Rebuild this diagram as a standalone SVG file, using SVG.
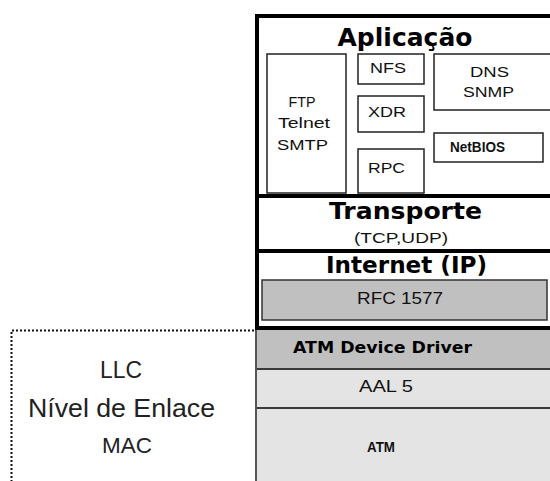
<svg xmlns="http://www.w3.org/2000/svg" width="550" height="481" viewBox="0 0 550 481">
<style>
.head{font-family:"DejaVu Sans",Verdana,sans-serif;font-weight:bold;fill:#000;text-anchor:middle}
.lbl{font-family:"Liberation Sans",Arial,sans-serif;fill:#111;text-anchor:middle}
.left{font-family:"Liberation Sans",Arial,sans-serif;fill:#222;text-anchor:middle}
.box{fill:#fff;stroke:#222;stroke-width:1.5}
.thick{stroke:#000;stroke-width:4;fill:none}
.sep{stroke:#3a3a3a;stroke-width:2}
</style>
<rect width="550" height="481" fill="#fff"/>
<g id="enlace">
  <path d="M11.5,482 V330.5 H256" fill="none" stroke="#111" stroke-width="2" stroke-dasharray="2,2"/>
  <text class="left" x="121" y="378" font-size="23" textLength="42" lengthAdjust="spacingAndGlyphs">LLC</text>
  <text class="left" x="121.5" y="417" font-size="26" textLength="187" lengthAdjust="spacingAndGlyphs">Nível de Enlace</text>
  <text class="left" x="127" y="453" font-size="22" textLength="50" lengthAdjust="spacingAndGlyphs">MAC</text>
</g>
<g id="atm-stack">
  <rect x="256" y="329" width="300" height="40" fill="#c0c0c0"/>
  <rect x="256" y="369" width="300" height="112" fill="#e4e4e4"/>
  <line class="sep" x1="256" y1="369" x2="550" y2="369"/>
  <line class="sep" x1="256" y1="408" x2="550" y2="408"/>
  <line x1="256" y1="329" x2="256" y2="481" stroke="#555" stroke-width="2"/>
  <text class="head" x="382.5" y="353" font-size="16" textLength="179" lengthAdjust="spacingAndGlyphs">ATM Device Driver</text>
  <text class="lbl" x="386" y="392" font-size="16" textLength="54" lengthAdjust="spacingAndGlyphs">AAL 5</text>
  <text class="lbl" x="381" y="452" font-size="15" font-weight="bold" textLength="28" lengthAdjust="spacingAndGlyphs">ATM</text>
</g>
<g id="aplicacao">
  <text class="head" x="405" y="46" font-size="25" textLength="135" lengthAdjust="spacingAndGlyphs">Aplicação</text>
  <g id="ftp">
    <rect class="box" x="267" y="54" width="79" height="139"/>
    <text class="lbl" x="302" y="107" font-size="14" textLength="27" lengthAdjust="spacingAndGlyphs">FTP</text>
    <text class="lbl" x="304" y="128" font-size="15" textLength="52" lengthAdjust="spacingAndGlyphs">Telnet</text>
    <text class="lbl" x="302.5" y="150" font-size="15" textLength="51" lengthAdjust="spacingAndGlyphs">SMTP</text>
  </g>
  <g id="nfs">
    <rect class="box" x="358" y="54" width="66" height="30"/>
    <text class="lbl" x="388" y="73" font-size="15" textLength="36" lengthAdjust="spacingAndGlyphs">NFS</text>
  </g>
  <g id="xdr">
    <rect class="box" x="358" y="96" width="66" height="36"/>
    <text class="lbl" x="387" y="117" font-size="15" textLength="38" lengthAdjust="spacingAndGlyphs">XDR</text>
  </g>
  <g id="rpc">
    <rect class="box" x="358" y="149" width="66" height="44"/>
    <text class="lbl" x="386.5" y="173" font-size="15" textLength="37" lengthAdjust="spacingAndGlyphs">RPC</text>
  </g>
  <g id="dns">
    <rect class="box" x="434" y="54" width="125" height="56"/>
    <text class="lbl" x="489.5" y="77" font-size="15" textLength="39" lengthAdjust="spacingAndGlyphs">DNS</text>
    <text class="lbl" x="488.5" y="97" font-size="15" textLength="51" lengthAdjust="spacingAndGlyphs">SNMP</text>
  </g>
  <g id="netbios">
    <rect class="box" x="434" y="133" width="109" height="29"/>
    <text class="lbl" x="477.5" y="152" font-size="14" font-weight="bold" textLength="55" lengthAdjust="spacingAndGlyphs">NetBIOS</text>
  </g>
</g>
<g id="transporte">
  <text class="head" x="405.5" y="219" font-size="23" textLength="153" lengthAdjust="spacingAndGlyphs">Transporte</text>
  <text class="lbl" x="401" y="243" font-size="15" textLength="94" lengthAdjust="spacingAndGlyphs">(TCP,UDP)</text>
</g>
<g id="internet">
  <text class="head" x="406.5" y="273" font-size="23" textLength="161" lengthAdjust="spacingAndGlyphs">Internet (IP)</text>
  <rect x="262" y="280" width="285" height="40" fill="#c0c0c0" stroke="#333" stroke-width="1.5"/>
  <text class="lbl" x="400" y="304" font-size="16" textLength="86" lengthAdjust="spacingAndGlyphs">RFC 1577</text>
</g>
<g id="frame">
  <path class="thick" d="M560,16 H257 V328 H560"/>
  <line class="thick" x1="257" y1="196" x2="560" y2="196"/>
  <line class="thick" x1="257" y1="251" x2="560" y2="251"/>
</g>
</svg>
